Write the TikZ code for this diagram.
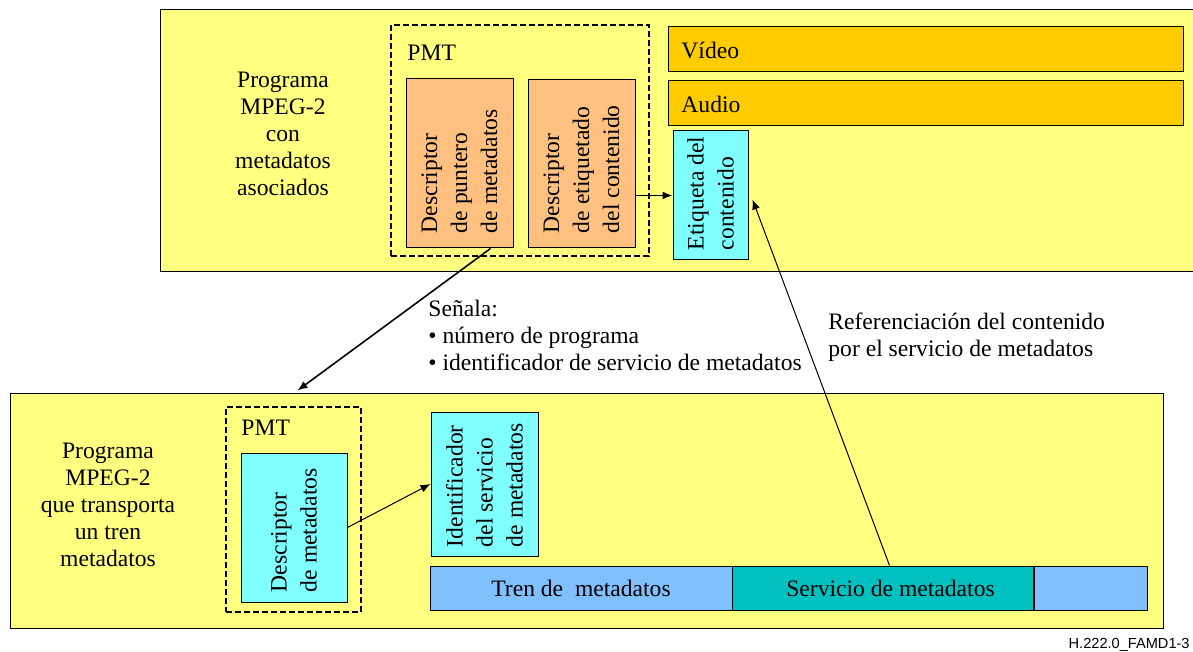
\documentclass[tikz,border=0pt]{standalone}
\usepackage{fontspec}
\setmainfont{Liberation Serif}
\newfontfamily\footfont{Liberation Sans}
\usetikzlibrary{fit,calc,arrows.meta}
\definecolor{ybg}{HTML}{FFFF80}
\definecolor{peach}{HTML}{FFC080}
\definecolor{cyanbox}{HTML}{80FFFF}
\definecolor{gold}{HTML}{FFCC00}
\definecolor{lblue}{HTML}{80C0FF}
\definecolor{teal2}{HTML}{00C0C0}
\begin{document}
\begin{tikzpicture}[x=0.5pt,y=-0.5pt,
  font=\fontsize{11.8}{13.5}\selectfont,
  box/.style={draw=black, line width=0.5pt, inner sep=0pt},
  pmtbox/.style={draw=black, line width=1pt, dash pattern=on 3pt off 1.5pt, inner sep=0pt},
  vtext/.style={rotate=90, anchor=west, align=left, inner sep=0pt, font=\fontsize{11.8}{15}\selectfont},
  lbl/.style={inner sep=0pt, align=left},
  arr/.style={-{Latex[length=5pt,width=4pt]}, line width=0.5pt},
  arrb/.style={-{Latex[length=5pt,width=4pt]}, line width=0.8pt}]
\useasboundingbox (0,0) rectangle (1193,652);
\fill[white] (0,0) rectangle (1193,652);
% top program
\node[box, fill=ybg, fit={(160,10)(1196,271)}] (top) {};
\node[inner sep=0pt, align=center] (toplbl) at (283,134) {Programa\\MPEG-2\\con\\metadatos\\asociados};
\node[pmtbox, fit={(391,25)(649,256)}] (pmt1) {};
\node[lbl, anchor=west] (pmt1t) at (407,53) {PMT};
\node[box, fill=peach, fit={(406,79)(513,248)}] (d1) {};
\node[vtext] (d1t) at ($(d1.south)+(0,-15)$) {Descriptor\\de puntero\\de metadatos};
\node[box, fill=peach, fit={(528,80)(635,248)}] (d2) {};
\node[vtext] (d2t) at ($(d2.south)+(0,-15)$) {Descriptor\\de etiquetado\\del contenido};
\node[box, fill=gold, fit={(668,27)(1183,72)}] (vid) {};
\node[lbl, anchor=west] (vidt) at (681,50) {Vídeo};
\node[box, fill=gold, fit={(668,81)(1183,126)}] (aud) {};
\node[lbl, anchor=west] (audt) at (681,104) {Audio};
\node[box, fill=cyanbox, fit={(673,131)(748,260)}] (et) {};
\node[vtext] (ett) at ($(et.south)+(0,-10)$) {Etiqueta del\\contenido};
% bottom program
\node[box, fill=ybg, fit={(10,393)(1163,628)}] (bot) {};
\node[inner sep=0pt, align=center] (botlbl) at (108,505) {Programa\\MPEG-2\\que transporta\\un tren\\metadatos};
\node[pmtbox, fit={(226,407)(361,612)}] (pmt2) {};
\node[lbl, anchor=west] (pmt2t) at (241,428) {PMT};
\node[box, fill=cyanbox, fit={(241,453)(347,602)}] (dm) {};
\node[vtext] (dmt) at ($(dm.south)+(0,-10)$) {Descriptor\\de metadatos};
\node[box, fill=cyanbox, fit={(431,412)(538,556)}] (id) {};
\node[vtext] (idt) at ($(id.south)+(0,-9)$) {Identificador\\del servicio\\de metadatos};
\node[box, fill=lblue, fit={(430,566)(732,610)}] (tren) {};
\node[inner sep=0pt] (trent) at (tren.center) {Tren de\ \ metadatos};
\node[box, fill=teal2, fit={(732,566)(1033,610)}] (serv) {};
\node[inner sep=0pt] (servt) at ($(serv.center)+(8,0)$) {Servicio de metadatos};
\node[box, fill=lblue, fit={(1034,566)(1147,610)}] (tail) {};
% texts between
\node[lbl, anchor=west] (senala) at (428,335) {Señala:\\• número de programa\\• identificador de servicio de metadatos};
\node[lbl, anchor=west] (ref) at (828,337) {Referenciación del contenido\\por el servicio de metadatos};
% arrows
\draw[arrb] (d2.east |- et.west) -- (et.west);
\draw[arrb] ($(d1.south east)+(-23,0)$) -- ($(bot.north west)+(288,-2)$);
\draw[arr] ($(serv.north)+(7,0)$) -- ($(et.east)+(4,4)$);
\draw[arr] (dm.east) -- (id.west);
% footer
\node[inner sep=0pt, anchor=east, font=\footfont\fontsize{7.3}{8}\selectfont] (foot) at (1190,645) {H.222.0\_FAMD1-3};
\end{tikzpicture}
\end{document}
